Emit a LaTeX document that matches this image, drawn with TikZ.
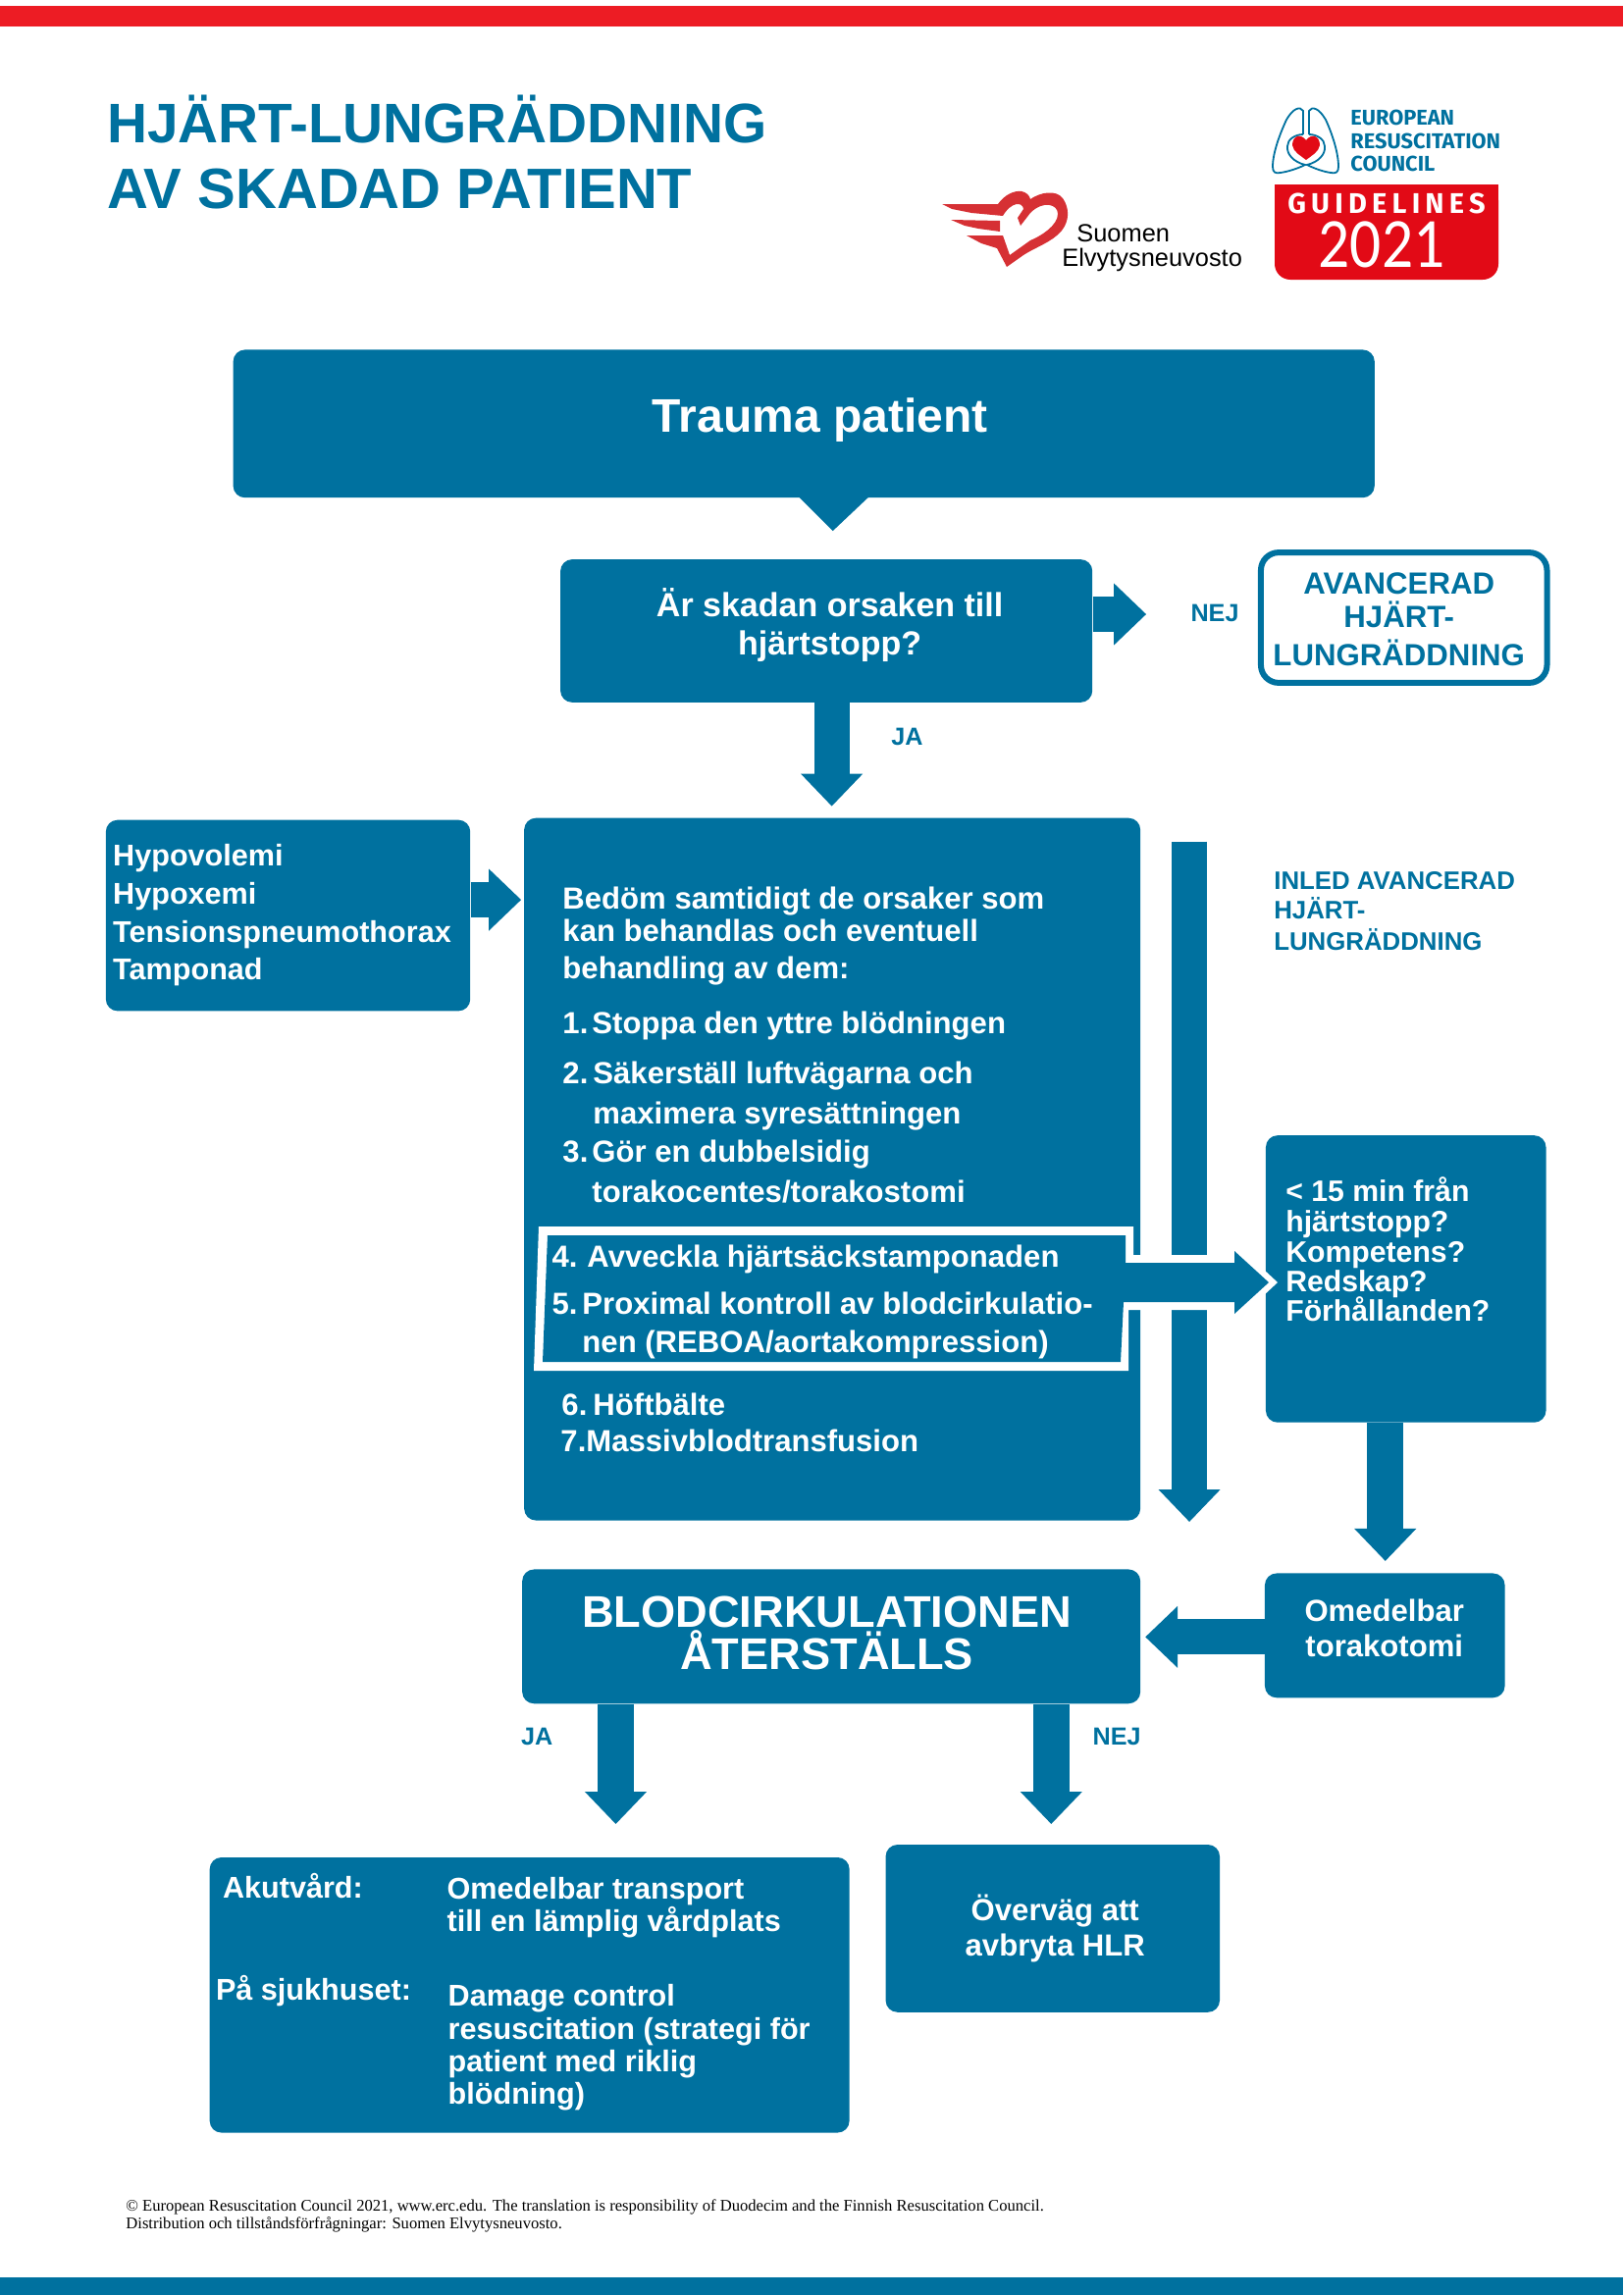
\documentclass[tikz,border=0pt]{standalone}
\usepackage{fontspec}
\setmainfont{Liberation Sans}
\newfontfamily\ercfont{Fira Sans}
\newfontfamily\yearfont{Carlito}
\newfontfamily\footfont{Liberation Serif}
\usetikzlibrary{arrows.meta}
\definecolor{ercblue}{RGB}{0,113,159}
\definecolor{ercred}{RGB}{237,28,36}
\definecolor{logored}{RGB}{226,10,22}
\definecolor{heartred}{RGB}{214,48,52}
\newcommand\fs[1]{\fontsize{#1pt}{#1pt}\selectfont}
\tikzset{
  box/.style={fill=ercblue,rounded corners=6pt,inner sep=0pt,draw=none},
  lbl/.style={anchor=base west,inner sep=0pt,text=white,font=\bfseries\fs{15.55}},
  lblc/.style={lbl,anchor=base},
  tight lbl/.style={font=\bfseries\fs{15.3}},
  right lbl/.style={font=\bfseries\fs{15.1}},
  small lbl/.style={font=\bfseries\fs{12.6},text=ercblue},
  inled lbl/.style={font=\bfseries\fs{12.9},text=ercblue},
  exact/.style={x=0.5pt,y=-0.5pt},
  blockarrow/.style={draw=ercblue,line width=18.5pt,-{Triangle[length=16.5pt,width=30.5pt,fill=ercblue]}},
}
\newcommand\bx[6][box]{\pgfmathsetmacro\bxw{(#5-#3)*0.4992}\pgfmathsetmacro\bxh{(#6-#4)*0.4992}%
  \node[#1,minimum width=\bxw pt,minimum height=\bxh pt] (#2) at ({(#3+#5)/2},{(#4+#6)/2}) {};}
\newcommand\tl[5][]{\node[lbl,#1] (#2) at (#3,#4) {#5};}
\newcommand\tc[5][]{\node[lblc,#1] (#2) at (#3,#4) {#5};}
\begin{document}
\begin{tikzpicture}[x=0.4992pt,y=-0.4992pt]
\begin{scope}[exact]
\useasboundingbox (0,0) rectangle (1654,2339);
% bars
\fill[ercred] (0,6) rectangle (1654,27);
\fill[ercblue] (0,2321) rectangle (1654,2339);
% Suomen logo
\fill[heartred] (960,208) -- (1017,208) .. controls (1024,198) and (1034,194) .. (1041,195) .. controls (1046,196) and (1049,199) .. (1050,203)
  .. controls (1060,196) and (1076,193) .. (1083,202) .. controls (1090,212) and (1090,225) .. (1082,235) .. controls (1072,247) and (1055,252) .. (1043,260)
  -- (1026,272) -- (1016,253) -- (1000,248) -- (985,240) -- (1022,240) -- (1029,260) -- (1050,245) .. controls (1060,241) and (1078,230) .. (1078,218)
  .. controls (1078,208) and (1063,204) .. (1050,217) -- (1040,230) -- (1037,222) -- (1043,213) .. controls (1042,205) and (1030,206) .. (1022,220)
  -- (990,217) -- (970,213) -- cycle;
\fill[heartred] (969,224) -- (1019,225) -- (1019,236) -- (997,233) -- (983,230) -- cycle;
\node[anchor=base west,inner sep=0pt,font=\fs{12.7}] (su1) at (1097,246) {Suomen};
\node[anchor=base west,inner sep=0pt,font=\fs{12.7}] (su2) at (1082,271) {Elvytysneuvosto};
% ERC logo
\begin{scope}[draw=ercblue,line width=0.9pt]
\draw (1328,137) -- (1328,113) .. controls (1325,108) and (1318,110) .. (1311,122) .. controls (1305,135) and (1297,155) .. (1297,170)
  .. controls (1297,176) and (1300,177) .. (1305,176) .. controls (1312,175) and (1322,172) .. (1330,168) .. controls (1318,165) and (1311,157) .. (1312,149) .. controls (1312,142) and (1320,137) .. (1328,137);
\draw (1334,137) -- (1334,113) .. controls (1337,108) and (1344,110) .. (1351,122) .. controls (1357,135) and (1364,155) .. (1364,170)
  .. controls (1364,176) and (1361,177) .. (1356,176) .. controls (1349,175) and (1340,172) .. (1332,168) .. controls (1344,165) and (1351,157) .. (1350,149) .. controls (1350,142) and (1342,137) .. (1334,137);
\end{scope}
\fill[logored] (1331,143) .. controls (1325,135) and (1317,139) .. (1317,148) .. controls (1318,155) and (1326,159) .. (1331,163) .. controls (1336,159) and (1344,155) .. (1345,148) .. controls (1345,139) and (1337,135) .. (1331,143);
\tl[text=ercblue,font=\ercfont\bfseries\fs{10.9}]{e1}{1376}{127}{EUROPEAN}
\tl[text=ercblue,font=\ercfont\bfseries\fs{10.9}]{e2}{1376}{151}{RESUSCITATION}
\tl[text=ercblue,font=\ercfont\bfseries\fs{10.9}]{e3}{1376}{175}{COUNCIL}
\fill[logored,rounded corners=8pt] (1299,188) -- (1299,285) -- (1527,285) -- (1527,188) [sharp corners] -- cycle;
\fill[logored] (1299,188) rectangle (1527,220);
\node[anchor=base,inner sep=0pt,text=white,font=\ercfont\bfseries\fs{14.5}] (g1) at (1413,217) {\addfontfeatures{LetterSpace=18}GUIDELINES};
\node[anchor=base,inner sep=0pt,text=white,font=\yearfont\fs{36},xscale=.88] (g2) at (1408,272) {2021};
\end{scope}
% title
\tl[text=ercblue,font=\bfseries\fs{28.4}]{t1}{109}{146}{HJÄRT-LUNGRÄDDNING}
\tl[text=ercblue,font=\bfseries\fs{29}]{t2}{109}{213}{AV SKADAD PATIENT}
% main flow boxes
\bx{trauma}{238}{357}{1403}{508}
\fill[ercblue] (816,508) -- (886,508) -- (850,542) -- cycle;
\bx{q}{572}{571}{1115}{717}
\bx{left}{108}{837}{480}{1032}
\bx{main}{535}{835}{1164}{1552}
\bx[box,fill=white,draw=ercblue,line width=3pt,rounded corners=9pt]{avanc}{1287}{564}{1579}{697}
% arrows
\coordinate (a1) at (1170,627);
\draw[blockarrow,line width=18pt] (q.east |- a1) -- (a1);
\coordinate (a2) at (849,823);
\draw[blockarrow,line width=18pt] (a2 |- q.south) -- (a2);
\coordinate (a3) at (532,918.5);
\draw[blockarrow,line width=18pt] (left.east |- a3) -- (a3);
\coordinate (v0) at (1214,859);
\coordinate (v1) at (1214,1553.5);
\draw[blockarrow,line width=18pt] (v0) -- (v1);
\bx{right}{1292}{1159}{1578}{1452}
% white frame and arrow to the right box
\begin{scope}[exact]
\fill[white] (549,1250) -- (1155,1250) -- (1155,1279) -- (1240,1279) -- (1240,1335) -- (1150,1335) -- (1150,1397) -- (544,1397) -- cycle;
\fill[white] (1258,1266) -- (1302,1307) -- (1258,1348) -- cycle;
\fill[ercblue] (1258,1275) -- (1293,1307) -- (1258,1339) -- cycle;
\fill[ercblue] (558,1259) -- (1147,1259) -- (1147,1287) -- (1259,1287) -- (1259,1327) -- (1145,1327) -- (1142,1388) -- (553,1388) -- cycle;
\end{scope}
\coordinate (a4) at (1414,1593.5);
\draw[blockarrow] (a4 |- right.south) -- (a4);
\bx{omed}{1291}{1606}{1536}{1733}
\bx{blod}{533}{1602}{1164}{1739}
\coordinate (a5) at (1169,1671);
\draw[blockarrow,line width=18pt] (omed.west |- a5) -- (a5);
\coordinate (a6) at (628.5,1862);
\draw[blockarrow] (a6 |- blod.south) -- (a6);
\coordinate (a7) at (1073,1862);
\draw[blockarrow] (a7 |- blod.south) -- (a7);
\bx{akut}{214}{1896}{867}{2177}
\bx{overv}{904}{1883}{1245}{2054}
% texts
\tc[font=\bfseries\fs{24}]{trt}{837}{441}{Trauma patient}
\tc[font=\bfseries\fs{17}]{q1}{847}{629}{Är skadan orsaken till}
\tc[font=\bfseries\fs{17}]{q2}{847}{669}{hjärtstopp?}
\tc[small lbl]{nej1}{1240}{634}{NEJ}
\tc[small lbl]{ja1}{926}{761}{JA}
\tc[text=ercblue,font=\bfseries\fs{15.6}]{av1}{1428}{606}{AVANCERAD}
\tc[text=ercblue,font=\bfseries\fs{15.6}]{av2}{1428}{641}{HJÄRT-}
\tc[text=ercblue,font=\bfseries\fs{15.6}]{av3}{1428}{680}{LUNGRÄDDNING}
\tl[tight lbl]{l1}{115}{884}{Hypovolemi}
\tl[tight lbl]{l2}{115}{923}{Hypoxemi}
\tl[tight lbl]{l3}{115}{962}{Tensionspneumothorax}
\tl[tight lbl]{l4}{115}{1000}{Tamponad}
\tl[inled lbl]{in1}{1300}{908}{INLED AVANCERAD}
\tl[inled lbl]{in2}{1300}{938}{HJÄRT-}
\tl[inled lbl]{in3}{1300}{970}{LUNGRÄDDNING}
\tl{m1}{574}{928}{Bedöm samtidigt de orsaker som}
\tl{m2}{574}{961}{kan behandlas och eventuell}
\tl{m3}{574}{999}{behandling av dem:}
\tl{n1}{574}{1055}{1.}
\tl{s1}{604}{1055}{Stoppa den yttre blödningen}
\tl{n2}{574}{1106}{2.}
\tl{s2}{605}{1106}{Säkerställ luftvägarna och}
\tl{s2b}{605}{1147}{maximera syresättningen}
\tl{n3}{574}{1186}{3.}
\tl{s3}{604}{1186}{Gör en dubbelsidig}
\tl{s3b}{604}{1227}{torakocentes/torakostomi}
\tl{n4}{563}{1294}{4.}
\tl{s4}{599}{1294}{Avveckla hjärtsäckstamponaden}
\tl{n5}{563}{1342}{5.}
\tl{s5}{594}{1342}{Proximal kontroll av blodcirkulatio-}
\tl{s5b}{594}{1381}{nen (REBOA/aortakompression)}
\tl{n6}{573}{1445}{6.}
\tl{s6}{605}{1445}{Höftbälte}
\tl{s7}{572}{1482}{7.Massivblodtransfusion}
\tl[right lbl]{r1}{1312}{1226}{< 15 min från}
\tl[right lbl]{r2}{1312}{1257}{hjärtstopp?}
\tl[right lbl]{r3}{1312}{1289}{Kompetens?}
\tl[right lbl]{r4}{1312}{1319}{Redskap?}
\tl[right lbl]{r5}{1312}{1349}{Förhållanden?}
\tc{o1}{1413}{1655}{Omedelbar}
\tc{o2}{1413}{1691}{torakotomi}
\tc[font=\bfseries\fs{22.6}]{b1}{844}{1661}{BLODCIRKULATIONEN}
\tc[font=\bfseries\fs{22.6}]{b2}{844}{1704}{ÅTERSTÄLLS}
\tc[small lbl]{ja2}{548}{1781}{JA}
\tc[small lbl]{nej2}{1140}{1781}{NEJ}
\tl[tight lbl]{k1}{227}{1938}{Akutvård:}
\tl[tight lbl]{k2}{220}{2042}{På sjukhuset:}
\tl[tight lbl]{k3}{456}{1939}{Omedelbar transport}
\tl[tight lbl]{k4}{456}{1972}{till en lämplig vårdplats}
\tl[tight lbl]{k5}{457}{2048}{Damage control}
\tl[tight lbl]{k6}{457}{2082}{resuscitation (strategi för}
\tl[tight lbl]{k7}{457}{2115}{patient med riklig}
\tl[tight lbl]{k8}{457}{2148}{blödning)}
\tc{ov1}{1077}{1961}{Överväg att}
\tc{ov2}{1077}{1997}{avbryta HLR}
\begin{scope}[exact]
\node[anchor=base west,inner sep=0pt,font=\footfont\fs{8.3}] (f1) at (128,2253) {© European Resuscitation Council 2021, www.erc.edu. The translation is responsibility of Duodecim and the Finnish Resuscitation Council.};
\node[anchor=base west,inner sep=0pt,font=\footfont\fs{8.3}] (f2) at (128,2271) {Distribution och tillståndsförfrågningar: Suomen Elvytysneuvosto.};
\end{scope}
\end{tikzpicture}
\end{document}
